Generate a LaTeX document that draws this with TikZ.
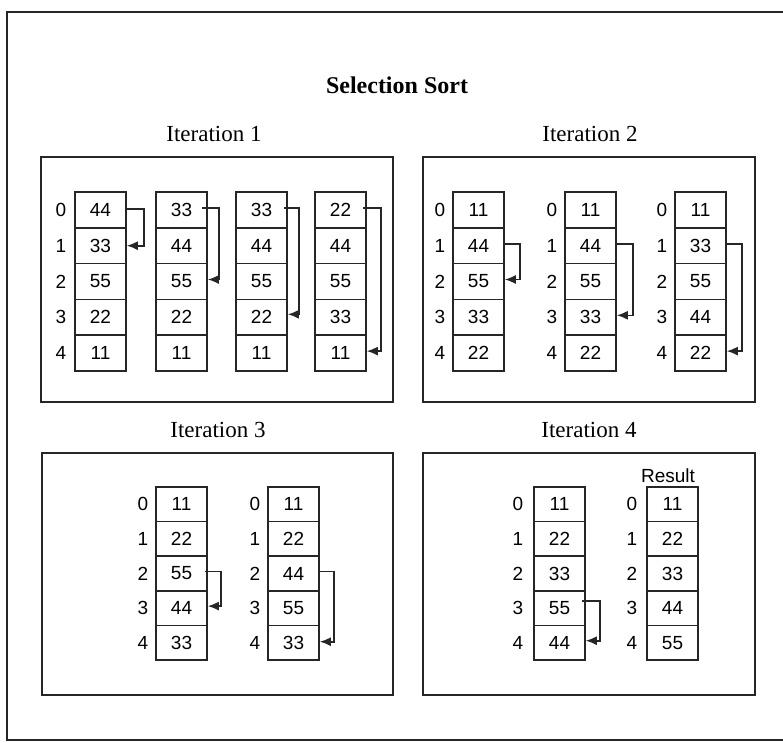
\documentclass[tikz,border=0pt]{standalone}
\usepackage{fontspec}
\setmainfont{Liberation Serif}
\newfontfamily\arialf{Liberation Sans}
\usetikzlibrary{arrows.meta}
\tikzset{
  cell/.style={draw=black!85, line width=1.6pt, minimum width=51pt, inner sep=0pt,
    font=\arialf\fontsize{19}{21}\selectfont},
  idx/.style={inner sep=0pt, font=\arialf\fontsize{19}{21}\selectfont},
  panel/.style={draw=black!85, line width=2pt},
  ttl/.style={font=\fontsize{23}{26}\selectfont},
  swap/.style={draw=black!85, line width=1.6pt, -{Latex[length=11pt,width=9pt]}}
}
\newcommand\sortcol[5]{%
  \foreach \v [count=\i from 0] in {#5} {
    \node[cell, minimum height=#4] (#1-\i) at ({#2+25.5},{#3+#4*(\i+0.5)}) {\v};
  }%
}
\newcommand\idxcol[4]{%
  \foreach \i in {0,...,4} {
    \node[idx] (#1-l\i) at (#2,{#3+#4*(\i+0.5)}) {\i};
  }%
}
\begin{document}
\begin{tikzpicture}[x=1pt,y=-1pt]
\useasboundingbox (0,0) rectangle (783,742);
% outer frame
\draw[line width=2pt, black!85] (783,12) -- (7,12) -- (7,740) -- (783,740);
% titles
\node[font=\bfseries\fontsize{24}{28}\selectfont] (title) at (397,85) {Selection Sort};
\node[ttl] (t1) at (214,134) {Iteration 1};
\node[ttl] (t2) at (590,134) {Iteration 2};
\node[ttl] (t3) at (218,430) {Iteration 3};
\node[ttl] (t4) at (589,430) {Iteration 4};
% panels
\draw[panel] (41,157) rectangle (393,402);
\draw[panel] (423,157) rectangle (755,402);
\draw[panel] (42,453) rectangle (393,695);
\draw[panel] (423,453) rectangle (755,695);
% Iteration 1
\idxcol{a}{61}{192}{35.8}
\sortcol{a1}{75}{192}{35.8}{44,33,55,22,11}
\sortcol{a2}{156}{192}{35.8}{33,44,55,22,11}
\sortcol{a3}{236}{192}{35.8}{33,44,55,22,11}
\sortcol{a4}{315}{192}{35.8}{22,44,55,33,11}
\draw[swap] ([yshift=1pt]a1-0.east) -- ++(17,0) |- (a1-1.east);
\draw[swap] ([xshift=-6pt,yshift=2pt]a2-0.east) -- ++(17,0) |- ([yshift=2pt]a2-2.east);
\draw[swap] ([xshift=-4pt,yshift=2pt]a3-0.east) -- ++(15,0) |- ([yshift=3pt]a3-3.east);
\draw[swap] ([xshift=-4pt,yshift=2pt]a4-0.east) -- ++(18,0) |- ([yshift=2pt]a4-4.east);
% Iteration 2
\idxcol{ba}{440}{192}{35.8}
\idxcol{bb}{552}{192}{35.8}
\idxcol{bc}{662}{192}{35.8}
\sortcol{b1}{453}{192}{35.8}{11,44,55,33,22}
\sortcol{b2}{565}{192}{35.8}{11,44,55,33,22}
\sortcol{b3}{675}{192}{35.8}{11,33,55,44,22}
\draw[swap] ([xshift=-2pt,yshift=2pt]b1-1.east) -- ++(17,0) |- ([yshift=2pt]b1-2.east);
\draw[swap] ([xshift=-2pt,yshift=2pt]b2-1.east) -- ++(18,0) |- ([yshift=2pt]b2-3.east);
\draw[swap] ([xshift=-2pt,yshift=2pt]b3-1.east) -- ++(17,0) |- ([yshift=2pt]b3-4.east);
% Iteration 3
\idxcol{ca}{143}{487}{34.6}
\idxcol{cb}{255}{487}{34.6}
\sortcol{c1}{156}{487}{34.6}{11,22,55,44,33}
\sortcol{c2}{268}{487}{34.6}{11,22,44,55,33}
\draw[swap] ([xshift=-3pt,yshift=2pt]c1-2.east) -- ++(16,0) |- ([yshift=2pt]c1-3.east);
\draw[swap] ([yshift=2pt]c2-2.east) -- ++(14,0) |- ([yshift=1pt]c2-4.east);
% Iteration 4
\idxcol{da}{518}{487}{34.6}
\idxcol{db}{632}{487}{34.6}
\sortcol{d1}{534}{487}{34.6}{11,22,33,55,44}
\sortcol{d2}{647}{487}{34.6}{11,22,33,44,55}
\node[idx] (res) at (668,476) {Result};
\draw[swap] ([xshift=-4pt,yshift=7pt]d1-3.east) -- ++(18,0) |- ([yshift=2pt]d1-4.east);
\end{tikzpicture}
\end{document}
